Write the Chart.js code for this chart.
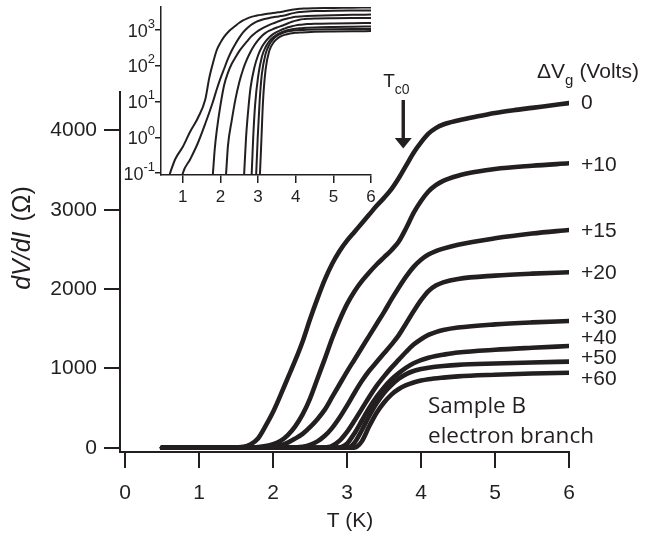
<!DOCTYPE html>
<html><head><meta charset="utf-8">
<script src="https://cdn.jsdelivr.net/npm/chart.js@4.4.1/dist/chart.umd.min.js"></script>
<style>
html,body{margin:0;padding:0;background:#fff;}
#wrap{position:relative;width:645px;height:533px;overflow:hidden;}
#wrap canvas{position:absolute;left:0;top:0;}
</style></head><body>
<div id="wrap"><canvas id="main" width="645" height="533"></canvas><canvas id="inset" width="645" height="533"></canvas></div>
<script>
// ---- data (T in K, dV/dI in ohm) ----
const gateVoltages = ['0', '+10', '+15', '+20', '+30', '+40', '+50', '+60'];
const T_0  = [0.5, 0.66, 0.8, 1.0, 1.2, 1.4, 1.6, 1.7, 1.8, 1.9, 2.0, 2.1, 2.2, 2.3, 2.4, 2.5, 2.6, 2.7, 2.8, 2.9, 3.0, 3.1, 3.2, 3.3, 3.4, 3.5, 3.6, 3.7, 3.8, 3.9, 4.0, 4.1, 4.2, 4.3, 4.5, 4.75, 5.0, 5.25, 5.5, 5.75, 6.0];
const R_0  = [0.03, 0.1, 0.25, 0.55, 1.5, 3.5, 12, 45, 120, 275, 450, 660, 880, 1100, 1340, 1620, 1880, 2120, 2320, 2480, 2610, 2720, 2830, 2940, 3050, 3150, 3260, 3400, 3560, 3720, 3850, 3960, 4030, 4075, 4125, 4175, 4220, 4255, 4285, 4315, 4345];
const T_10 = [0.5, 0.9, 1.0, 1.2, 1.4, 1.6, 1.8, 1.9, 2.0, 2.1, 2.2, 2.3, 2.4, 2.5, 2.6, 2.7, 2.8, 2.9, 3.0, 3.1, 3.2, 3.3, 3.4, 3.5, 3.6, 3.7, 3.8, 3.9, 4.0, 4.1, 4.2, 4.3, 4.5, 4.75, 5.0, 5.5, 6.0];
const R_10 = [0.005, 0.03, 0.1, 0.25, 0.7, 2.5, 10, 22, 45, 85, 160, 270, 420, 620, 870, 1120, 1380, 1610, 1810, 1970, 2100, 2210, 2310, 2400, 2490, 2600, 2770, 2960, 3110, 3230, 3310, 3365, 3430, 3480, 3515, 3555, 3586];
const T_15 = [0.5, 1.7, 1.8, 1.85, 1.9, 2.0, 2.1, 2.2, 2.3, 2.4, 2.5, 2.6, 2.7, 2.8, 2.9, 3.0, 3.1, 3.2, 3.3, 3.4, 3.5, 3.6, 3.7, 3.8, 3.9, 4.0, 4.1, 4.2, 4.3, 4.5, 5.0, 5.5, 6.0];
const R_15 = [0.001, 0.005, 0.1, 0.5, 1.5, 8, 30, 65, 115, 175, 260, 360, 480, 640, 800, 960, 1110, 1260, 1410, 1560, 1710, 1870, 2020, 2160, 2280, 2370, 2435, 2478, 2510, 2560, 2640, 2700, 2745];
const T_20 = [0.5, 2.05, 2.15, 2.2, 2.3, 2.4, 2.5, 2.6, 2.7, 2.8, 2.9, 3.0, 3.1, 3.2, 3.3, 3.4, 3.5, 3.6, 3.7, 3.8, 3.9, 4.0, 4.1, 4.2, 4.3, 4.5, 5.0, 5.5, 6.0];
const R_20 = [0.001, 0.005, 0.1, 0.6, 3, 12, 35, 80, 150, 250, 380, 530, 690, 840, 970, 1080, 1190, 1300, 1420, 1570, 1720, 1860, 1975, 2045, 2085, 2128, 2170, 2195, 2212];
const T_30 = [0.5, 2.55, 2.63, 2.68, 2.75, 2.8, 2.9, 3.0, 3.1, 3.2, 3.3, 3.4, 3.5, 3.6, 3.7, 3.8, 3.9, 4.0, 4.1, 4.2, 4.3, 4.5, 5.0, 5.5, 6.0];
const R_30 = [0.001, 0.005, 0.1, 1, 8, 25, 90, 200, 340, 490, 640, 780, 900, 1010, 1110, 1210, 1300, 1368, 1422, 1458, 1483, 1515, 1555, 1580, 1598];
const T_40 = [0.5, 2.75, 2.83, 2.87, 2.92, 3.0, 3.1, 3.2, 3.3, 3.4, 3.5, 3.6, 3.7, 3.8, 3.9, 4.0, 4.1, 4.2, 4.3, 4.5, 5.0, 5.5, 6.0];
const R_40 = [0.001, 0.005, 0.1, 1, 8, 50, 180, 340, 500, 640, 760, 860, 940, 1010, 1065, 1105, 1135, 1157, 1173, 1200, 1235, 1260, 1282];
const T_50 = [0.5, 2.87, 2.95, 2.99, 3.04, 3.1, 3.2, 3.3, 3.4, 3.5, 3.6, 3.7, 3.8, 3.9, 4.0, 4.1, 4.3, 4.5, 5.0, 5.5, 6.0];
const R_50 = [0.001, 0.005, 0.1, 1, 10, 60, 220, 400, 560, 690, 790, 870, 928, 967, 992, 1008, 1030, 1045, 1062, 1075, 1085];
const T_60 = [0.5, 2.97, 3.05, 3.09, 3.13, 3.2, 3.3, 3.4, 3.5, 3.6, 3.7, 3.8, 3.9, 4.0, 4.1, 4.3, 4.5, 5.0, 5.5, 6.0];
const R_60 = [0.001, 0.005, 0.1, 1, 10, 80, 270, 440, 570, 670, 740, 788, 822, 846, 863, 884, 900, 920, 935, 946];

const xTicks = [0, 1, 2, 3, 4, 5, 6];
const yTicks = [0, 1000, 2000, 3000, 4000];
const insetXTicks = [1, 2, 3, 4, 5, 6];
const insetYExponents = [-1, 0, 1, 2, 3];
const Tc0 = 3.76;

// ---- styling ----
const INK = '#231f20';
const SANS = '"Liberation Sans", Arial, sans-serif';
const HUMAN = '"Open Sans", "Noto Sans", sans-serif';
Chart.defaults.font.family = SANS;
Chart.defaults.color = INK;

const seriesT = [T_0, T_10, T_15, T_20, T_30, T_40, T_50, T_60];
const seriesR = [R_0, R_10, R_15, R_20, R_30, R_40, R_50, R_60];
const labelDy = [0, 2, 1, 1, -3, -8, -3, 6.5];

function makeDatasets(width) {
  return seriesT.map((T, i) => ({
    label: gateVoltages[i],
    data: T.map((t, j) => ({ x: t, y: seriesR[i][j] })),
    borderColor: INK,
    borderWidth: width,
    pointRadius: 0,
    fill: false,
    cubicInterpolationMode: 'monotone',
    borderCapStyle: 'round',
    borderJoinStyle: 'round'
  }));
}

function fixTicks(values) {
  return (scale) => { scale.ticks = values.map(v => ({ value: v })); };
}

// ---- main chart annotations ----
const mainAnnot = {
  id: 'mainAnnot',
  afterDraw(chart) {
    const ctx = chart.ctx;
    const xs = chart.scales.x, ys = chart.scales.y;
    ctx.save();
    ctx.fillStyle = INK;
    ctx.strokeStyle = INK;

    // curve labels
    ctx.font = '21px ' + SANS;
    ctx.textAlign = 'left';
    ctx.textBaseline = 'middle';
    const xLab = xs.getPixelForValue(6) + 12;
    gateVoltages.forEach((g, i) => {
      const R = seriesR[i][seriesR[i].length - 1];
      ctx.fillText(g, xLab, ys.getPixelForValue(R) + labelDy[i]);
    });

    // Delta V_g (Volts)
    ctx.textBaseline = 'alphabetic';
    ctx.font = '21px ' + SANS;
    let x = 537;
    ctx.fillText('\u0394V', x, 78);
    x += ctx.measureText('\u0394V').width;
    ctx.font = '15px ' + SANS;
    ctx.fillText('g', x, 85);
    x += ctx.measureText('g').width + 6;
    ctx.font = '21px ' + SANS;
    ctx.fillText('(Volts)', x, 78);

    // T_c0 label and arrow
    const xa = xs.getPixelForValue(Tc0);
    ctx.font = '19px ' + SANS;
    ctx.fillText('T', xa - 20, 87);
    const wT = ctx.measureText('T').width;
    ctx.font = '14px ' + SANS;
    ctx.fillText('c0', xa - 20 + wT, 94);
    ctx.fillRect(xa - 1.7, 100, 3.4, 39);
    ctx.beginPath();
    ctx.moveTo(xa - 8.5, 138);
    ctx.lineTo(xa + 8.5, 138);
    ctx.lineTo(xa, 148.5);
    ctx.closePath();
    ctx.fill();

    // Sample B / electron branch
    ctx.font = '22.5px ' + HUMAN;
    ctx.fillText('Sample B', 428, 413);
    ctx.fillText('electron branch', 428, 443);

    // x title
    ctx.font = '21px ' + SANS;
    ctx.textAlign = 'center';
    ctx.fillText('T (K)', 350, 527);

    // y title (rotated)
    ctx.translate(23, 238);
    ctx.rotate(-Math.PI / 2);
    ctx.textAlign = 'left';
    ctx.textBaseline = 'middle';
    ctx.font = 'italic 25px ' + SANS;
    const p1 = 'dV/dI';
    const w1 = ctx.measureText(p1).width;
    ctx.font = '25px ' + SANS;
    const p2 = ' (\u03A9)';
    const w2 = ctx.measureText(p2).width;
    const start = -(w1 + w2 + 3) / 2;
    ctx.font = 'italic 25px ' + SANS;
    ctx.fillText(p1, start, 0);
    ctx.font = '25px ' + SANS;
    ctx.fillText(p2, start + w1 + 3, 0);
    ctx.restore();
  }
};

new Chart(document.getElementById('main'), {
  type: 'line',
  data: { datasets: makeDatasets(4.6) },
  options: {
    responsive: false,
    animation: false,
    devicePixelRatio: 1,
    layout: { padding: { left: 0, top: 92, right: 76, bottom: 0 } },
    plugins: { legend: { display: false }, tooltip: { enabled: false } },
    scales: {
      x: {
        type: 'linear', min: -0.068, max: 6,
        afterBuildTicks: fixTicks(xTicks),
        afterFit: (s) => { s.height = 81; },
        grid: { drawOnChartArea: false, drawTicks: true, tickLength: 16, color: INK, lineWidth: 2 },
        border: { display: true, color: INK, width: 2 },
        ticks: { color: INK, font: { size: 21, family: SANS }, padding: 13, maxRotation: 0, autoSkip: false, callback: (v) => String(v) }
      },
      y: {
        type: 'linear', min: -54, max: 4485,
        afterBuildTicks: fixTicks(yTicks),
        afterFit: (s) => { s.width = 120; },
        grid: { drawOnChartArea: false, drawTicks: true, tickLength: 16, color: INK, lineWidth: 2 },
        border: { display: true, color: INK, width: 2 },
        ticks: { color: INK, font: { size: 21, family: SANS }, padding: 7, autoSkip: false, callback: (v) => String(v) }
      }
    }
  },
  plugins: [mainAnnot]
});

// ---- inset ----
const insetAnnot = {
  id: 'insetAnnot',
  afterDraw(chart) {
    const ctx = chart.ctx, ys = chart.scales.y;
    ctx.save();
    ctx.fillStyle = INK;
    ctx.textBaseline = 'alphabetic';
    ctx.textAlign = 'left';
    const right = 155;
    insetYExponents.forEach(e => {
      const y = ys.getPixelForValue(Math.pow(10, e));
      const sup = String(e);
      ctx.font = '13px ' + SANS;
      const ws = ctx.measureText(sup).width;
      ctx.font = '18px ' + SANS;
      const wb = ctx.measureText('10').width;
      ctx.fillText('10', right - ws - wb, y + 6.5);
      ctx.font = '13px ' + SANS;
      ctx.fillText(sup, right - ws, y - 2.5);
    });
    ctx.restore();
  }
};

new Chart(document.getElementById('inset'), {
  type: 'line',
  data: { datasets: makeDatasets(2) },
  options: {
    responsive: false,
    animation: false,
    devicePixelRatio: 1,
    layout: { padding: { left: 0, top: 7, right: 274, bottom: 328 } },
    plugins: { legend: { display: false }, tooltip: { enabled: false } },
    scales: {
      x: {
        type: 'linear', min: 0.42, max: 6,
        afterBuildTicks: fixTicks(insetXTicks),
        afterFit: (s) => { s.height = 30; },
        grid: { drawOnChartArea: false, drawTicks: true, tickLength: 8, color: INK, lineWidth: 1.5 },
        border: { display: true, color: INK, width: 1.5 },
        ticks: { color: INK, font: { size: 17, family: SANS }, padding: 4, maxRotation: 0, autoSkip: false, callback: (v) => String(v) }
      },
      y: {
        type: 'logarithmic', min: Math.pow(10, -1.05), max: Math.pow(10, 3.65),
        afterBuildTicks: fixTicks(insetYExponents.map(e => Math.pow(10, e))),
        afterFit: (s) => { s.width = 161; },
        grid: { drawOnChartArea: false, drawTicks: true, tickLength: 6, color: INK, lineWidth: 1.5 },
        border: { display: true, color: INK, width: 1.5 },
        ticks: { display: false }
      }
    }
  },
  plugins: [insetAnnot]
});
</script>
</body></html>
